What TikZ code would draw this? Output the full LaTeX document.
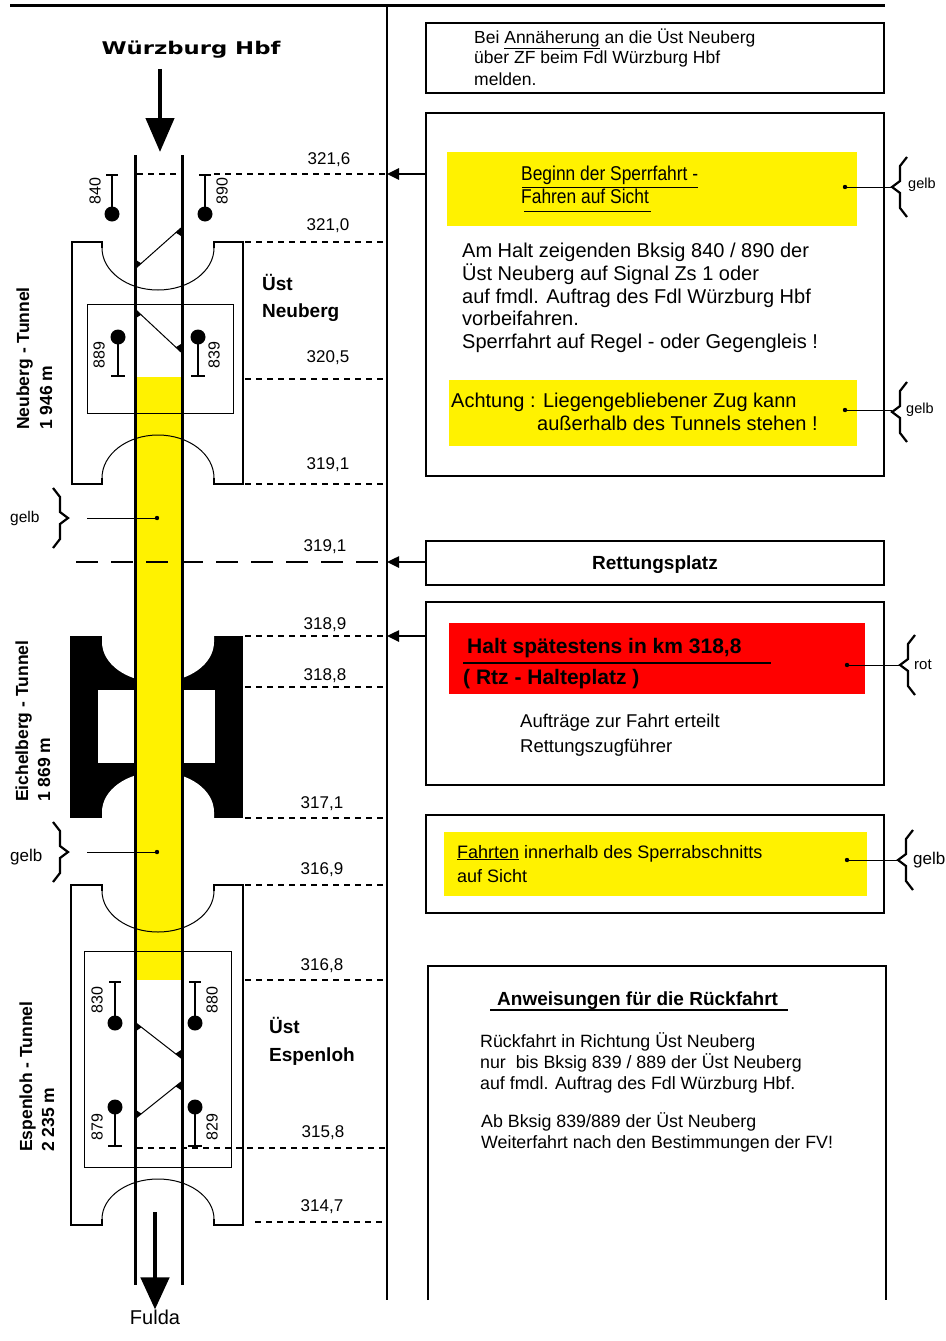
\documentclass[tikz,border=0pt]{standalone}
\usepackage{fontspec}
\setmainfont{Liberation Sans}
\newfontfamily\widefont[FakeStretch=1.3]{DejaVu Sans}
\newfontfamily\narrowfont[FakeStretch=0.87]{Liberation Sans}
\usetikzlibrary{arrows.meta,calc}
\newcommand\fsz[1]{\fontsize{#1}{#1}\selectfont}
\begin{document}
\begin{tikzpicture}[x=1pt,y=-1pt,
  rail/.style={line width=3pt},
  thinl/.style={line width=1pt},
  frame/.style={line width=2pt},
  kmdash/.style={line width=1.3pt, dash pattern=on 6pt off 5pt},
  longdash/.style={line width=1.3pt, dash pattern=on 22pt off 13pt},
  kmlab/.style={font=\fsz{17}, inner sep=0, anchor=center},
  tx/.style={anchor=base west, inner sep=0},
  sigl/.style={font=\fsz{16}, inner sep=0, rotate=90, anchor=center},
  sig/.style={line width=2pt},
  tun/.style={font=\bfseries\fsz{17.5}, inner sep=0, rotate=90, anchor=base west},
  box/.style={draw, line width=1.5pt, minimum width=458pt, inner sep=0},
  arr/.style={line width=2.5pt, -{Triangle[length=12pt,width=11pt]}},
  lbrc/.pic={\draw[line width=2.2pt] (15,-30) -- (8,-21) -- (8,-6) -- (0,0) -- (8,6) -- (8,21) -- (15,30);}
]
\useasboundingbox[fill=white] (0,0) rectangle (945,1341);

% frame lines
\draw[line width=3pt] (10,5) -- (885,5);
\draw[line width=2pt] (387,4) -- (387,1300);

% Eichelberg tunnel (black)
\fill[black] (70,636) rectangle (243,818);
\fill[white] (102,636) -- (102,642) arc[start angle=180,end angle=0,x radius=56,y radius=40] -- (214,636) -- cycle;
\fill[white] (98,690) rectangle (215,763);
\fill[white] (102,818) -- (102,812) arc[start angle=180,end angle=360,x radius=56,y radius=40] -- (214,818) -- cycle;

% yellow section
\fill[yellow] (136,377) rectangle (181,980);

% Neuberg tunnel
\draw[frame] (102,248) -- (102,242) -- (72,242) -- (72,484) -- (102,484) -- (102,478);
\draw[frame] (214,248) -- (214,242) -- (243,242) -- (243,484) -- (214,484) -- (214,478);
\draw[thinl] (102,248) arc[start angle=180,end angle=0,x radius=56,y radius=42];
\draw[thinl] (102,478) arc[start angle=180,end angle=360,x radius=56,y radius=43];
\draw[thinl] (87,304) rectangle (233,413);

% Espenloh tunnel
\draw[frame] (102,891) -- (102,885) -- (71,885) -- (71,1225) -- (102,1225) -- (102,1219);
\draw[frame] (214,891) -- (214,885) -- (243,885) -- (243,1225) -- (214,1225) -- (214,1219);
\draw[thinl] (102,891) arc[start angle=180,end angle=0,x radius=56,y radius=41];
\draw[thinl] (102,1219) arc[start angle=180,end angle=360,x radius=56,y radius=40];
\draw[thinl] (84,951) rectangle (231,1167);

% crossovers
\draw[thinl] (181,228) -- (136,268);
\fill (181,228) -- (181,236) -- ($(181,228)!7pt!(136,268)$) -- cycle;
\fill (136,268) -- (136,260) -- ($(136,268)!7pt!(181,228)$) -- cycle;
\draw[thinl] (136,310) -- (181,352);
\fill (136,310) -- (136,318) -- ($(136,310)!7pt!(181,352)$) -- cycle;
\fill (181,352) -- (181,344) -- ($(181,352)!7pt!(136,310)$) -- cycle;
\draw[thinl] (136,1023) -- (181,1058);
\fill (136,1023) -- (136,1031) -- ($(136,1023)!7pt!(181,1058)$) -- cycle;
\fill (181,1058) -- (181,1050) -- ($(181,1058)!7pt!(136,1023)$) -- cycle;
\draw[thinl] (181,1082) -- (136,1118);
\fill (181,1082) -- (181,1090) -- ($(181,1082)!7pt!(136,1118)$) -- cycle;
\fill (136,1118) -- (136,1110) -- ($(136,1118)!7pt!(181,1082)$) -- cycle;

% km dashed lines
\draw[kmdash] (137,174) -- (182,174);
\draw[kmdash] (214,174) -- (387,174);
\draw[kmdash] (245,242) -- (387,242);
\draw[kmdash] (245,379) -- (387,379);
\draw[kmdash] (245,484) -- (387,484);
\draw[longdash] (76,562) -- (387,562);
\draw[kmdash] (245,636) -- (387,636);
\draw[kmdash] (245,687) -- (387,687);
\draw[kmdash] (245,818) -- (387,818);
\draw[kmdash] (245,885) -- (387,885);
\draw[kmdash] (245,980) -- (387,980);
\draw[kmdash] (137,1148) -- (387,1148);
\draw[kmdash] (255,1222) -- (387,1222);

% rails
\draw[rail] (135,155) -- (135,1285);
\draw[rail] (182,155) -- (182,1285);

% signals
\draw[sig] (106,175) -- (118,175) (112,175) -- (112,208); \fill (112,214) circle (7.5);
\draw[sig] (199,175) -- (211,175) (205,175) -- (205,208); \fill (205,214) circle (7.5);
\fill (118,337) circle (7.5); \draw[sig] (118,342) -- (118,376) (111,376) -- (125,376);
\fill (198,337) circle (7.5); \draw[sig] (198,342) -- (198,376) (191,376) -- (205,376);
\draw[sig] (109,982) -- (121,982) (115,982) -- (115,1018); \fill (115,1023) circle (7.5);
\draw[sig] (189,982) -- (201,982) (195,982) -- (195,1018); \fill (195,1023) circle (7.5);
\fill (115,1107) circle (7.5); \draw[sig] (115,1112) -- (115,1146) (108,1146) -- (122,1146);
\fill (195,1107) circle (7.5); \draw[sig] (195,1112) -- (195,1146) (188,1146) -- (202,1146);
\node[sigl] (s840) at (95,191) {840};
\node[sigl] (s890) at (222,191) {890};
\node[sigl] (s889) at (99,355) {889};
\node[sigl] (s839) at (214,355) {839};
\node[sigl] (s830) at (97,1000) {830};
\node[sigl] (s880) at (212,1000) {880};
\node[sigl] (s879) at (97,1127) {879};
\node[sigl] (s829) at (212,1127) {829};

% km labels
\node[kmlab] (k1) at (329,160) {321,6};
\node[kmlab] (k2) at (328,226) {321,0};
\node[kmlab] (k3) at (328,358) {320,5};
\node[kmlab] (k4) at (328,465) {319,1};
\node[kmlab] (k5) at (325,547) {319,1};
\node[kmlab] (k6) at (325,625) {318,9};
\node[kmlab] (k7) at (325,676) {318,8};
\node[kmlab] (k8) at (322,804) {317,1};
\node[kmlab] (k9) at (322,870) {316,9};
\node[kmlab] (k10) at (322,966) {316,8};
\node[kmlab] (k11) at (323,1133) {315,8};
\node[kmlab] (k12) at (322,1207) {314,7};

% station names
\node[tx, font=\bfseries\fsz{19}] (un1) at (262,290) {Üst};
\node[tx, font=\bfseries\fsz{19}] (un2) at (262,317) {Neuberg};
\node[tx, font=\bfseries\fsz{19}] (ue1) at (269,1033) {Üst};
\node[tx, font=\bfseries\fsz{19}] (ue2) at (269,1061) {Espenloh};

% tunnel names
\node[tun] (tn1) at (29,430) {Neuberg - Tunnel};
\node[tun] (tn2) at (52,430) {1 946 m};
\node[tun] (te1) at (28,802) {Eichelberg - Tunnel};
\node[tun] (te2) at (50,802) {1 869 m};
\node[tun] (ts1) at (32,1152) {Espenloh - Tunnel};
\node[tun] (ts2) at (54,1152) {2 235 m};

% direction arrows
\node[inner sep=0, font=\widefont\bfseries\fsz{17.5}, anchor=base] (wue) at (191,54) {Würzburg Hbf};
\draw[line width=4.5pt, -{Triangle[length=34pt,width=28pt]}] (wue.south -| 160,0) ++(0,11) -- (160,152);
\node[inner sep=0, font=\fsz{20}, anchor=center] (ful) at (155,1317) {Fulda};
\draw[line width=4.5pt, -{Triangle[length=32pt,width=28pt]}] (155,1212) -- (ful.north);

% left "gelb" markers
\node[inner sep=0, font=\fsz{15.5}, anchor=west] (g1) at (10,518) {gelb};
\pic[xscale=-1] at (68,518) {lbrc};
\fill (157,518) circle (2.2);
\draw[thinl] (87,518) -- (157,518);
\node[inner sep=0, font=\fsz{17}, anchor=west] (g2) at (10,857) {gelb};
\pic[xscale=-1] at (68,852) {lbrc};
\fill (157,852) circle (2.2);
\draw[thinl] (87,852) -- (157,852);

% right boxes
\node[box, minimum height=70pt] (b1) at (655,58) {};
\node[tx, font=\fsz{17.5}] (b1l1) at (474,43) {Bei \underline{Annäherung} an die Üst Neuberg};
\node[tx, font=\fsz{17.5}] (b1l2) at (474,63) {über ZF beim Fdl Würzburg Hbf};
\node[tx, font=\fsz{17.5}] (b1l3) at (474,85) {melden.};

\node[box, minimum height=363pt] (b2) at (655,294.5) {};
\fill[yellow] (447,152) rectangle (857,226);
\node[tx, font=\narrowfont\fsz{20}] (y1l1) at (521,180) {Beginn der Sperrfahrt -};
\node[tx, font=\narrowfont\fsz{20}] (y1l2) at (521,203) {Fahren auf Sicht};
\draw[thinl] (522,187) -- (698,187);
\draw[thinl] (524,211) -- (651,211);
\node[tx, font=\fsz{20}] (b2l1) at (462,257) {Am Halt zeigenden Bksig 840 / 890 der};
\node[tx, font=\fsz{20}] (b2l2) at (462,280) {Üst Neuberg auf Signal Zs 1 oder};
\node[tx, font=\fsz{20}] (b2l3) at (462,303) {auf fmdl. Auftrag des Fdl Würzburg Hbf};
\node[tx, font=\fsz{20}] (b2l4) at (462,325) {vorbeifahren.};
\node[tx, font=\fsz{20}] (b2l5) at (462,348) {Sperrfahrt auf Regel - oder Gegengleis !};
\fill[yellow] (449,380) rectangle (857,446);
\node[tx, font=\fsz{20}] (y2l1) at (451,407) {Achtung : Liegengebliebener Zug kann};
\node[tx, font=\fsz{20}] (y2l2) at (537,430) {außerhalb des Tunnels stehen !};

\node[box, minimum height=44pt] (b3) at (655,563) {};
\node[inner sep=0, anchor=base, font=\bfseries\fsz{19}] (rp) at (655,569) {Rettungsplatz};

\node[box, minimum height=183pt] (b4) at (655,693.5) {};
\fill[red] (449,623) rectangle (865,694);
\node[tx, font=\bfseries\fsz{21}] (r1) at (467,653) {Halt spätestens in km 318,8};
\draw[line width=1.3pt] (463,663) -- (771,663);
\node[tx, font=\bfseries\fsz{21}] (r2) at (463,684) {( Rtz - Halteplatz )};
\node[tx, font=\fsz{18.5}] (b4l1) at (520,727) {Aufträge zur Fahrt erteilt};
\node[tx, font=\fsz{18.5}] (b4l2) at (520,752) {Rettungszugführer};

\node[box, minimum height=98pt] (b5) at (655,864) {};
\fill[yellow] (444,832) rectangle (867,896);
\node[tx, font=\fsz{18}] (b5l1) at (457,858) {\underline{Fahrten} innerhalb des Sperrabschnitts};
\node[tx, font=\fsz{18}] (b5l2) at (457,882) {auf Sicht};

\draw[line width=1.5pt] (428,1300) -- (428,966) -- (886,966) -- (886,1300);
\node[tx, font=\bfseries\fsz{19}] (aw) at (497,1005) {Anweisungen für die Rückfahrt};
\draw[line width=1.3pt] (490,1010) -- (788,1010);
\node[tx, font=\fsz{17.8}] (b6l1) at (480,1047) {Rückfahrt in Richtung Üst Neuberg};
\node[tx, font=\fsz{17.8}] (b6l2) at (480,1068) {nur\ \ bis Bksig 839 / 889 der Üst Neuberg};
\node[tx, font=\fsz{17.8}] (b6l3) at (480,1089) {auf fmdl. Auftrag des Fdl Würzburg Hbf.};
\node[tx, font=\fsz{17.8}] (b6l4) at (481,1127) {Ab Bksig 839/889 der Üst Neuberg};
\node[tx, font=\fsz{17.8}] (b6l5) at (481,1148) {Weiterfahrt nach den Bestimmungen der FV!};

% arrows to km line
\coordinate (a1) at (387,174);
\coordinate (a2) at (387,562);
\coordinate (a3) at (387,636);
\draw[arr] (b2.west |- a1) -- (a1);
\draw[arr] (b3.west |- a2) -- (a2);
\draw[arr] (b4.west |- a3) -- (a3);

% colour markers on the right
\fill (845,187) circle (2.2); \draw[thinl] (845,187) -- (892,187);
\pic at (892,187) {lbrc};
\node[inner sep=0, font=\fsz{14.5}, anchor=west] (gr1) at (908,185) {gelb};
\fill (845,410) circle (2.2); \draw[thinl] (845,410) -- (892,410);
\pic at (892,412) {lbrc};
\node[inner sep=0, font=\fsz{14.5}, anchor=west] (gr2) at (906,410) {gelb};
\fill (847,665) circle (2.2); \draw[thinl] (847,665) -- (900,665);
\pic at (900,665) {lbrc};
\node[inner sep=0, font=\fsz{15}, anchor=west] (gr3) at (914,665) {rot};
\fill (847,860) circle (2.2); \draw[thinl] (847,860) -- (898,860);
\pic at (898,860) {lbrc};
\node[inner sep=0, font=\fsz{17}, anchor=west] (gr4) at (913,860) {gelb};
\end{tikzpicture}
\end{document}
